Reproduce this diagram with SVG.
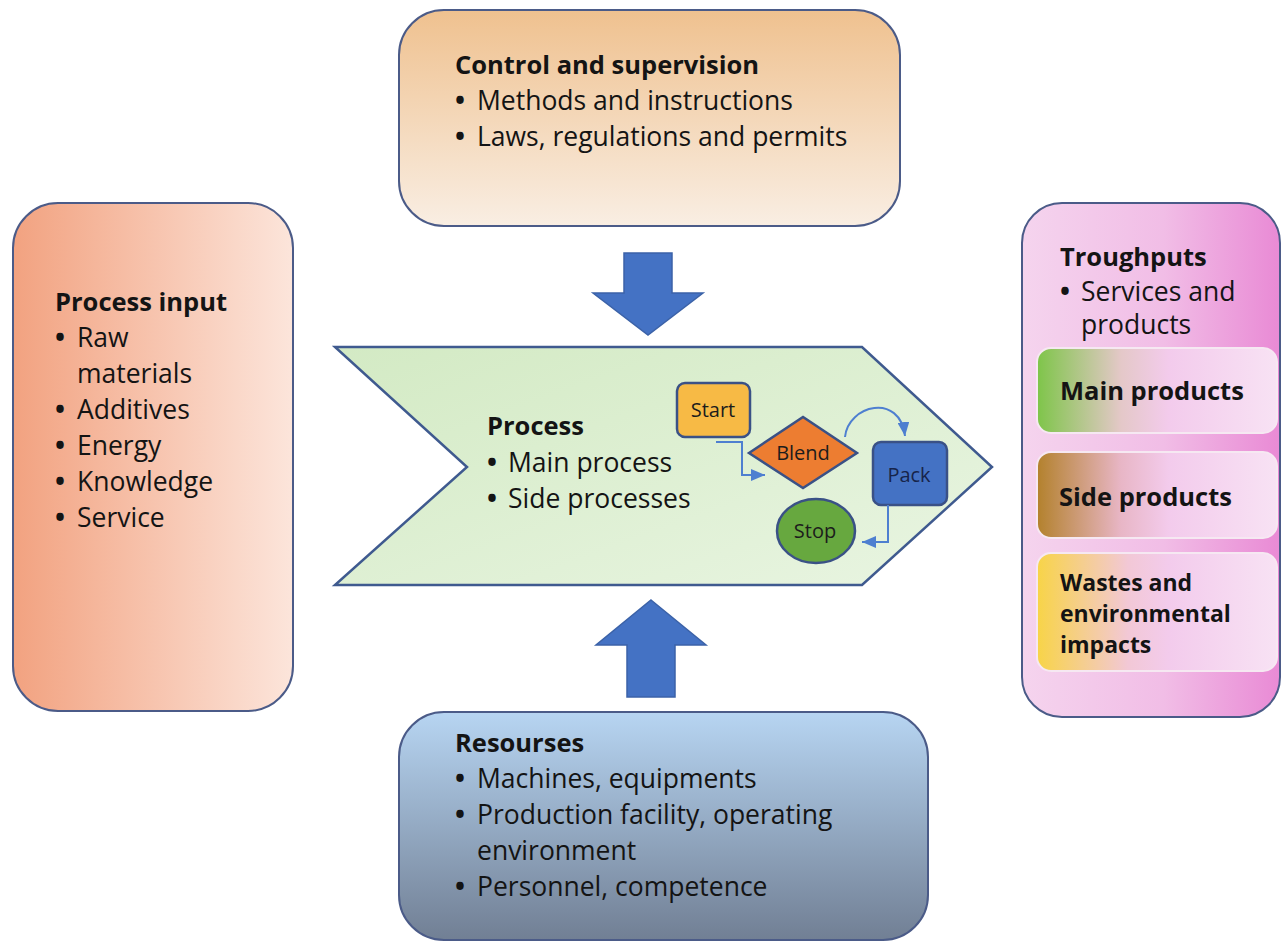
<svg xmlns="http://www.w3.org/2000/svg" width="1282" height="943" viewBox="0 0 1282 943">
<defs>
<style>
.t{font-family:"Open Sans","Liberation Sans",sans-serif;font-size:26.5px;fill:#141414}
.b{font-family:"Open Sans","Liberation Sans",sans-serif;font-size:25.5px;font-weight:bold;fill:#141414}
.s{font-family:"Open Sans","Liberation Sans",sans-serif;font-size:20px;fill:#1c1c1c;text-anchor:middle}
.bu{font-weight:bold}
.box{stroke:#4B5B88;stroke-width:2}
.inner{stroke:#F6E8F2;stroke-width:2}
.flow{stroke:#3A5186;stroke-width:2.5}
.con{fill:none;stroke:#4E7FD0;stroke-width:2}
.big{fill:#4472C4;stroke:#3B62A8;stroke-width:1.5}
</style>
<linearGradient id="gCtrl" x1="0" y1="0" x2="0" y2="1">
<stop offset="0" stop-color="#EFC18F"/><stop offset="1" stop-color="#F9EEE3"/>
</linearGradient>
<linearGradient id="gIn" x1="0" y1="0" x2="1" y2="0">
<stop offset="0" stop-color="#F2A280"/><stop offset="1" stop-color="#FCE5DB"/>
</linearGradient>
<linearGradient id="gRes" x1="0" y1="0" x2="0" y2="1">
<stop offset="0" stop-color="#B7D5F2"/><stop offset="1" stop-color="#717F94"/>
</linearGradient>
<linearGradient id="gProc" x1="0" y1="0" x2="1" y2="1">
<stop offset="0" stop-color="#D3EAC4"/><stop offset="1" stop-color="#E9F5E2"/>
</linearGradient>
<linearGradient id="gOut" x1="0" y1="0" x2="1" y2="0">
<stop offset="0" stop-color="#F5D4EE"/><stop offset="0.55" stop-color="#F1BDE6"/><stop offset="1" stop-color="#E98AD5"/>
</linearGradient>
<linearGradient id="gMain" x1="0" y1="0" x2="1" y2="0">
<stop offset="0" stop-color="#7EC549"/><stop offset="0.35" stop-color="#E4C8C8"/><stop offset="0.55" stop-color="#F3CBEC"/><stop offset="1" stop-color="#F8E2F4"/>
</linearGradient>
<linearGradient id="gSide" x1="0" y1="0" x2="1" y2="0">
<stop offset="0" stop-color="#B3812C"/><stop offset="0.35" stop-color="#E8B6C6"/><stop offset="0.55" stop-color="#F3CBEC"/><stop offset="1" stop-color="#F8E2F4"/>
</linearGradient>
<linearGradient id="gWaste" x1="0" y1="0" x2="1" y2="0">
<stop offset="0" stop-color="#F8D447"/><stop offset="0.38" stop-color="#F2C8D6"/><stop offset="0.55" stop-color="#F3CBEC"/><stop offset="1" stop-color="#F8E2F4"/>
</linearGradient>
<marker id="ah" markerUnits="userSpaceOnUse" markerWidth="14" markerHeight="12" refX="14" refY="6" orient="auto">
<path d="M0,0 L14,6 L0,12 z" fill="#4E7FD0"/>
</marker>
</defs>
<rect width="1282" height="943" fill="#FFFFFF"/>

<g id="control">
<rect class="box" x="399" y="10" width="501" height="216" rx="45" fill="url(#gCtrl)"/>
<text class="b" x="455" y="74">Control and supervision</text>
<text class="t" y="110"><tspan class="bu" x="455">•</tspan><tspan x="477">Methods and instructions</tspan></text>
<text class="t" y="146"><tspan class="bu" x="455">•</tspan><tspan x="477">Laws, regulations and permits</tspan></text>
</g>

<g id="process-input">
<rect class="box" x="13" y="203" width="280" height="508" rx="45" fill="url(#gIn)"/>
<text class="b" x="55" y="311">Process input</text>
<text class="t" y="347"><tspan class="bu" x="55">•</tspan><tspan x="77">Raw</tspan></text>
<text class="t" x="77" y="383">materials</text>
<text class="t" y="419"><tspan class="bu" x="55">•</tspan><tspan x="77">Additives</tspan></text>
<text class="t" y="455"><tspan class="bu" x="55">•</tspan><tspan x="77">Energy</tspan></text>
<text class="t" y="491"><tspan class="bu" x="55">•</tspan><tspan x="77">Knowledge</tspan></text>
<text class="t" y="527"><tspan class="bu" x="55">•</tspan><tspan x="77">Service</tspan></text>
</g>

<g id="process">
<polygon points="335,347 862,347 992,467 862,585 335,585 467,467" fill="url(#gProc)" stroke="#3F5A8F" stroke-width="2.5"/>
<text class="b" x="487" y="435">Process</text>
<text class="t" y="472"><tspan class="bu" x="487">•</tspan><tspan x="508">Main process</tspan></text>
<text class="t" y="508"><tspan class="bu" x="487">•</tspan><tspan x="508">Side processes</tspan></text>
</g>

<g id="start">
<rect class="flow" x="677" y="383" width="73" height="54" rx="8" fill="#F7BA45"/>
<text class="s" x="713" y="417">Start</text>
</g>
<g id="blend">
<polygon class="flow" points="749,453 803,417 857,453 803,488" fill="#ED7D31"/>
<text class="s" x="803" y="460">Blend</text>
</g>
<g id="pack">
<rect class="flow" x="873" y="442" width="74" height="63" rx="8" fill="#4472C4"/>
<text class="s" x="909" y="482" style="fill:#17244A">Pack</text>
</g>
<g id="stop">
<ellipse class="flow" cx="816" cy="531" rx="39" ry="32" fill="#67A83F"/>
<text class="s" x="815" y="538">Stop</text>
</g>

<g id="resources">
<rect class="box" x="399" y="712" width="529" height="228" rx="45" fill="url(#gRes)"/>
<text class="b" x="455" y="752">Resourses</text>
<text class="t" y="788"><tspan class="bu" x="455">•</tspan><tspan x="477">Machines, equipments</tspan></text>
<text class="t" y="824"><tspan class="bu" x="455">•</tspan><tspan x="477">Production facility, operating</tspan></text>
<text class="t" x="477" y="860">environment</text>
<text class="t" y="896"><tspan class="bu" x="455">•</tspan><tspan x="477">Personnel, competence</tspan></text>
</g>

<g id="throughputs">
<rect class="box" x="1022" y="203" width="258" height="514" rx="40" fill="url(#gOut)"/>
<text class="b" x="1060" y="266">Troughputs</text>
<text class="t" y="301"><tspan class="bu" x="1060">•</tspan><tspan x="1081">Services and</tspan></text>
<text class="t" x="1081" y="334">products</text>
</g>
<g id="main-products">
<rect class="inner" x="1037" y="348" width="240" height="85" rx="14" fill="url(#gMain)"/>
<text class="b" x="1060" y="400">Main products</text>
</g>
<g id="side-products">
<rect class="inner" x="1037" y="452" width="240" height="86" rx="14" fill="url(#gSide)"/>
<text class="b" x="1059" y="506">Side products</text>
</g>
<g id="wastes">
<rect class="inner" x="1037" y="553" width="240" height="118" rx="14" fill="url(#gWaste)"/>
<text class="b" x="1060" y="591" style="font-size:23px">Wastes and</text>
<text class="b" x="1060" y="622" style="font-size:23px">environmental</text>
<text class="b" x="1060" y="653" style="font-size:23px">impacts</text>
</g>

<g id="connectors">
<polygon class="big" points="624,253 672,253 672,293 703,293 648,335 593,293 624,293"/>
<polygon class="big" points="651,600 706,645 675,645 675,697 627,697 627,645 596,645"/>
<path class="con" d="M716 442 H742 V475 H765" marker-end="url(#ah)"/>
<path class="con" d="M845 437 C848 405 900 392 905 436" marker-end="url(#ah)"/>
<path class="con" d="M888 505 V542 H862" marker-end="url(#ah)"/>
</g>
</svg>
